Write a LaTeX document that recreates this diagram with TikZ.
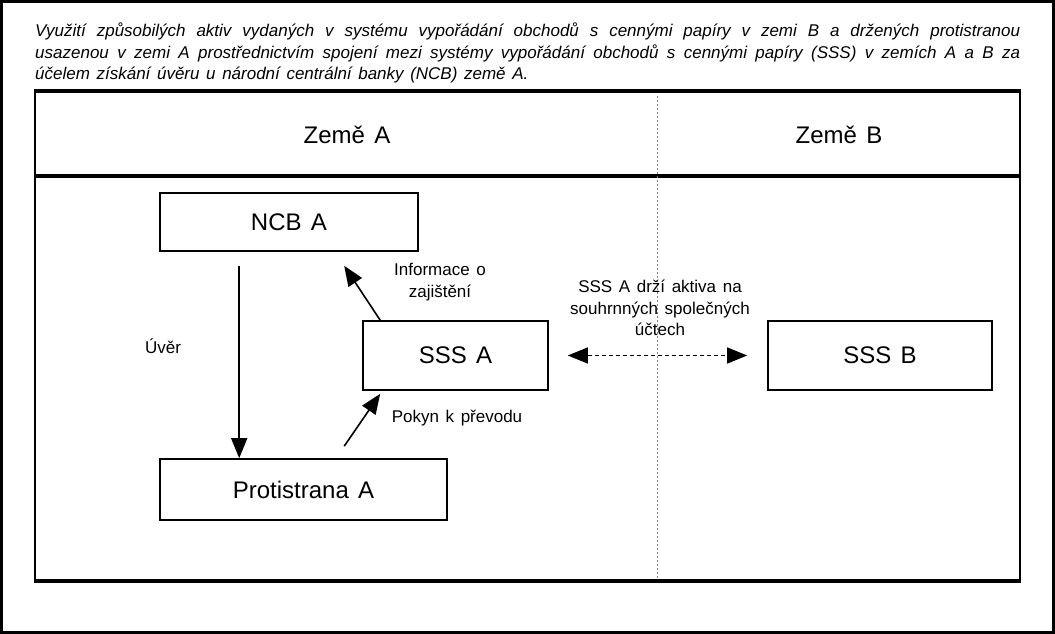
\documentclass[tikz,border=0pt]{standalone}
\usepackage{fontspec}
\setmainfont[WordSpace=1.4]{Liberation Sans}
\usetikzlibrary{arrows.meta,positioning}

\begin{document}
\begin{tikzpicture}[
    x=1pt, y=-1pt,
    box/.style={rectangle, draw, line width=1.6pt, align=center, inner sep=0pt, font=\fontsize{24}{28}\selectfont},
    lbl/.style={align=center, inner sep=0pt, font=\fontsize{17}{21.5}\selectfont},
    land/.style={inner sep=0pt, font=\fontsize{24}{28}\selectfont},
    arrow/.style={-{Triangle[length=20pt,width=16pt]}, line width=1.6pt},
    dblarrow/.style={{Triangle[length=20pt,width=16pt]}-{Triangle[length=20pt,width=16pt]}, line width=1.2pt, dash pattern=on 4pt off 3pt}
]
\useasboundingbox (0,0) rectangle (1055,634);

% Outer border
\draw[line width=3pt] (1.5,1.5) rectangle (1053.5,632.5);

% Caption
\node[anchor=north west, text width=985pt, align=justify, inner sep=0pt, font=\fontsize{17}{21.5}\selectfont\itshape] (caption) at (35,23)
  {Využití způsobilých aktiv vydaných v systému vypořádání obchodů s cennými papíry v zemi B a držených protistranou\linebreak
   usazenou v zemi A prostřednictvím spojení mezi systémy vypořádání obchodů s cennými papíry (SSS) v zemích A a B za\linebreak
   účelem získání úvěru u národní centrální banky (NCB) země A.};

% Frame
\node[draw, line width=2pt, minimum width=985pt, minimum height=488pt, inner sep=0pt] (frame) at (527.5,336) {};
\draw[line width=4pt] (frame.north west) -- (frame.north east);
\draw[line width=4pt] (frame.south west) -- (frame.south east);
\coordinate (sepl) at (35,176);
\coordinate (sepr) at (1020,176);
\draw[line width=3.5pt] (sepl) -- (sepr);
\coordinate (divt) at (657,96);
\coordinate (divb) at (657,578);
\draw[gray, line width=0.8pt, dash pattern=on 2pt off 2pt] (divt) -- (divb);

% Countries
\node[land] (zemea) at (347,135) {Země A};
\node[land] (zemeb) at (839,135) {Země B};

% Boxes
\node[box, minimum width=258pt, minimum height=58pt] (ncb) at (289,222) {NCB A};
\node[box, minimum width=185pt, minimum height=69pt] (sssa) at (455.5,355.5) {SSS A};
\node[box, minimum width=287pt, minimum height=61pt] (prot) at (303.5,489.5) {Protistrana A};
\node[box, minimum width=224pt, minimum height=69pt] (sssb) at (880,355.5) {SSS B};

% Labels
\node[lbl] (uver) at (163,346) {Úvěr};
\node[lbl] (info) at (440,282) {Informace o\\zajištění};
\node[lbl] (pokyn) at (457,418) {Pokyn k převodu};
\node[lbl] (drzi) at (660,308) {SSS A drží aktiva na\\souhrnných společných\\účtech};

% Arrows
\draw[arrow] ([xshift=80pt, yshift=-14pt]ncb.south west) -- ([xshift=80pt]prot.north west);
\draw[arrow] ([xshift=18pt]sssa.north west) -- ([xshift=185pt, yshift=-14pt]ncb.south west);
\draw[arrow] ([xshift=185pt, yshift=12pt]prot.north west) -- ([xshift=18pt, yshift=-3pt]sssa.south west);
\draw[dblarrow] ([xshift=19pt]sssa.east) -- ([xshift=-20pt]sssb.west);

\end{tikzpicture}
\end{document}
